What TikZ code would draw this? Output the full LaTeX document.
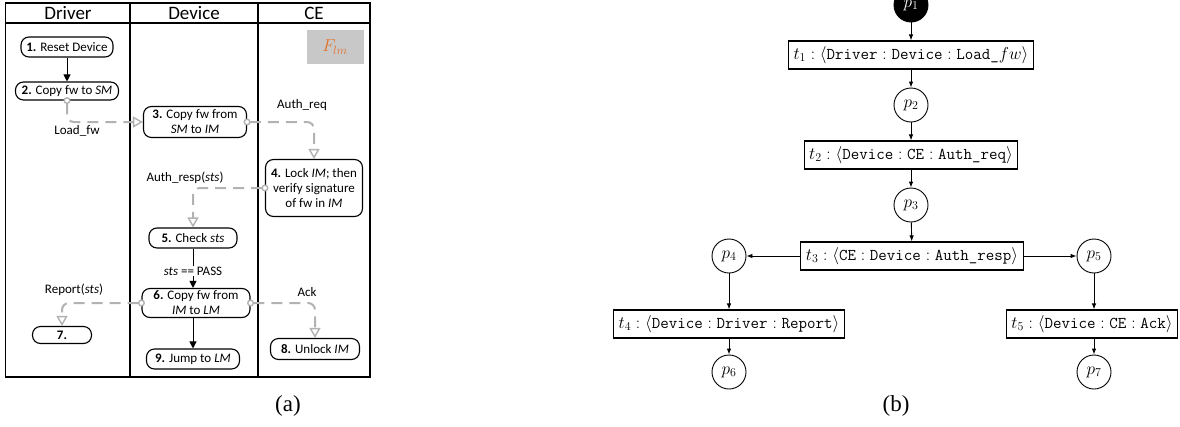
\documentclass[tikz,border=0pt]{standalone}
\usepackage{fontspec}
\newfontfamily\carl{Carlito}
\newfontfamily\capfont{Liberation Serif}
\usetikzlibrary{arrows.meta}
\definecolor{flowgray}{RGB}{178,178,178}
\definecolor{flmorange}{RGB}{228,112,40}
\definecolor{flmgray}{RGB}{200,200,200}
\begin{document}
\begin{tikzpicture}[x=1pt,y=-1pt,
  act/.style={draw, line width=1.1pt, rounded corners=8pt, align=center, inner sep=0pt,
    font=\carl\fontsize{13}{15}\selectfont},
  hdr/.style={font=\carl\fontsize{19}{21}\selectfont},
  lbl/.style={font=\carl\fontsize{13}{15}\selectfont, inner sep=1pt},
  flow/.style={draw=black, line width=1pt, -{Triangle[length=7pt,width=7pt]}},
  msg/.style={draw=flowgray, line width=2pt, dash pattern=on 11pt off 7pt, rounded corners=7pt,
    {Circle[open,length=7pt,width=7pt,line width=1.4pt,fill=white]}-{Triangle[open,length=10pt,width=11pt,line width=1.4pt,fill=white]},
    shorten <=-3.5pt},
  place/.style={circle, draw, line width=0.9pt, minimum size=34pt, inner sep=0pt,
    font=\fontsize{16.5}{19}\selectfont},
  trans/.style={draw, line width=1.1pt, minimum height=28pt, inner xsep=5pt, inner ysep=0pt,
    font=\fontsize{16.5}{19}\selectfont},
  pn/.style={draw=black, line width=0.9pt, -{Latex[length=6pt,width=4.5pt]}},
  captxt/.style={font=\capfont\fontsize{23}{26}\selectfont}
]
\useasboundingbox (0,0) rectangle (1180,426);

% ---------------- (a) swimlanes ----------------
\draw[line width=1.3pt] (5.5,3) rectangle (370,377);
\draw[line width=1.2pt] (5.5,23) -- (370,23);
\draw[line width=1.2pt] (130,3) -- (130,377);
\draw[line width=1.2pt] (258,3) -- (258,377);
\node[hdr] (hdrv) at (68,13) {Driver};
\node[hdr] (hdev) at (194,13) {Device};
\node[hdr] (hce) at (314,13) {CE};

\node[fill=flmgray, minimum width=57pt, minimum height=34pt, inner sep=0pt,
  font=\fontsize{18}{20}\selectfont] (flm) at (335,47) {\color{flmorange}$F_{lm}$};

\node[act, minimum width=92pt, minimum height=20pt] (n1) at (67,47) {\textbf{1.} Reset Device};
\node[act, minimum width=103pt, minimum height=18pt] (n2) at (67,91) {\textbf{2.} Copy fw to \textit{SM}};
\node[act, minimum width=103pt, minimum height=31pt] (n3) at (195,122) {\textbf{3.} Copy fw from\\\textit{SM} to \textit{IM}};
\node[act, minimum width=97pt, minimum height=57pt] (n4) at (314,188) {\textbf{4.} Lock \textit{IM}; then\\verify signature\\of fw in \textit{IM}};
\node[act, minimum width=88pt, minimum height=20pt] (n5) at (193,238) {\textbf{5.} Check \textit{sts}};
\node[act, minimum width=108pt, minimum height=29pt] (n6) at (196,303) {\textbf{6.} Copy fw from\\\textit{IM} to \textit{LM}};
\node[act, minimum width=59pt, minimum height=17pt] (n7) at (62,335) {\textbf{7.}};
\node[act, minimum width=89pt, minimum height=21pt] (n8) at (315,349) {\textbf{8.} Unlock \textit{IM}};
\node[act, minimum width=93pt, minimum height=20pt] (n9) at (193,359) {\textbf{9.} Jump to \textit{LM}};

\draw[flow] (n1) -- (n2);
\node[lbl] (lpass) at (193,271) {\textit{sts} == PASS};
\draw[line width=1pt] (n5.south) -- (lpass.north);
\draw[flow] (lpass.south) -- (lpass.south |- n6.north);
\draw[flow] (n6.south -| n5.south) -- (n9.north -| n5.south);

\draw[msg] (n2.south) |- (n3.west);
\draw[msg] (n3.east) -| (n4.north);
\draw[msg] (n4.west) -| (n5.north);
\draw[msg] (n6.west) -| (n7.north);
\draw[msg] (n6.east) -| (n8.north);

\node[lbl] (lload) at (77,131) {Load\_fw};
\node[lbl] (lreq) at (302,105) {Auth\_req};
\node[lbl] (lresp) at (185,178) {Auth\_resp(\textit{sts})};
\node[lbl] (lrep) at (74,290) {Report(\textit{sts})};
\node[lbl] (lack) at (307,292) {Ack};

\node[captxt] (capa) at (288,406) {(a)};

% ---------------- (b) Petri net ----------------
\node[place, fill=black, text=white] (p1) at (911,5) {$p_1$};
\node[trans] (t1) at (911,55) {$t_1:\langle\texttt{Driver}:\texttt{Device}:\texttt{Load\_}fw\rangle$};
\node[place] (p2) at (911,105) {$p_2$};
\node[trans] (t2) at (911,155) {$t_2:\langle\texttt{Device}:\texttt{CE}:\texttt{Auth\_req}\rangle$};
\node[place] (p3) at (911,205) {$p_3$};
\node[trans] (t3) at (912,256) {$t_3:\langle\texttt{CE}:\texttt{Device}:\texttt{Auth\_resp}\rangle$};
\node[place] (p4) at (729,256) {$p_4$};
\node[place] (p5) at (1094,256) {$p_5$};
\node[trans] (t4) at (729,324) {$t_4:\langle\texttt{Device}:\texttt{Driver}:\texttt{Report}\rangle$};
\node[trans] (t5) at (1092,324) {$t_5:\langle\texttt{Device}:\texttt{CE}:\texttt{Ack}\rangle$};
\node[place] (p6) at (729,372) {$p_6$};
\node[place] (p7) at (1094,372) {$p_7$};

\draw[pn] (p1) -- (t1);
\draw[pn] (t1) -- (p2);
\draw[pn] (p2) -- (t2);
\draw[pn] (t2) -- (p3);
\draw[pn] (p3) -- (t3);
\draw[pn] (t3) -- (p4);
\draw[pn] (t3) -- (p5);
\draw[pn] (p4) -- (t4);
\draw[pn] (p5) -- (t5.north -| p5);
\draw[pn] (t4) -- (p6);
\draw[pn] (t5.south -| p7) -- (p7);

\node[captxt] (capb) at (896,406) {(b)};
\end{tikzpicture}
\end{document}
